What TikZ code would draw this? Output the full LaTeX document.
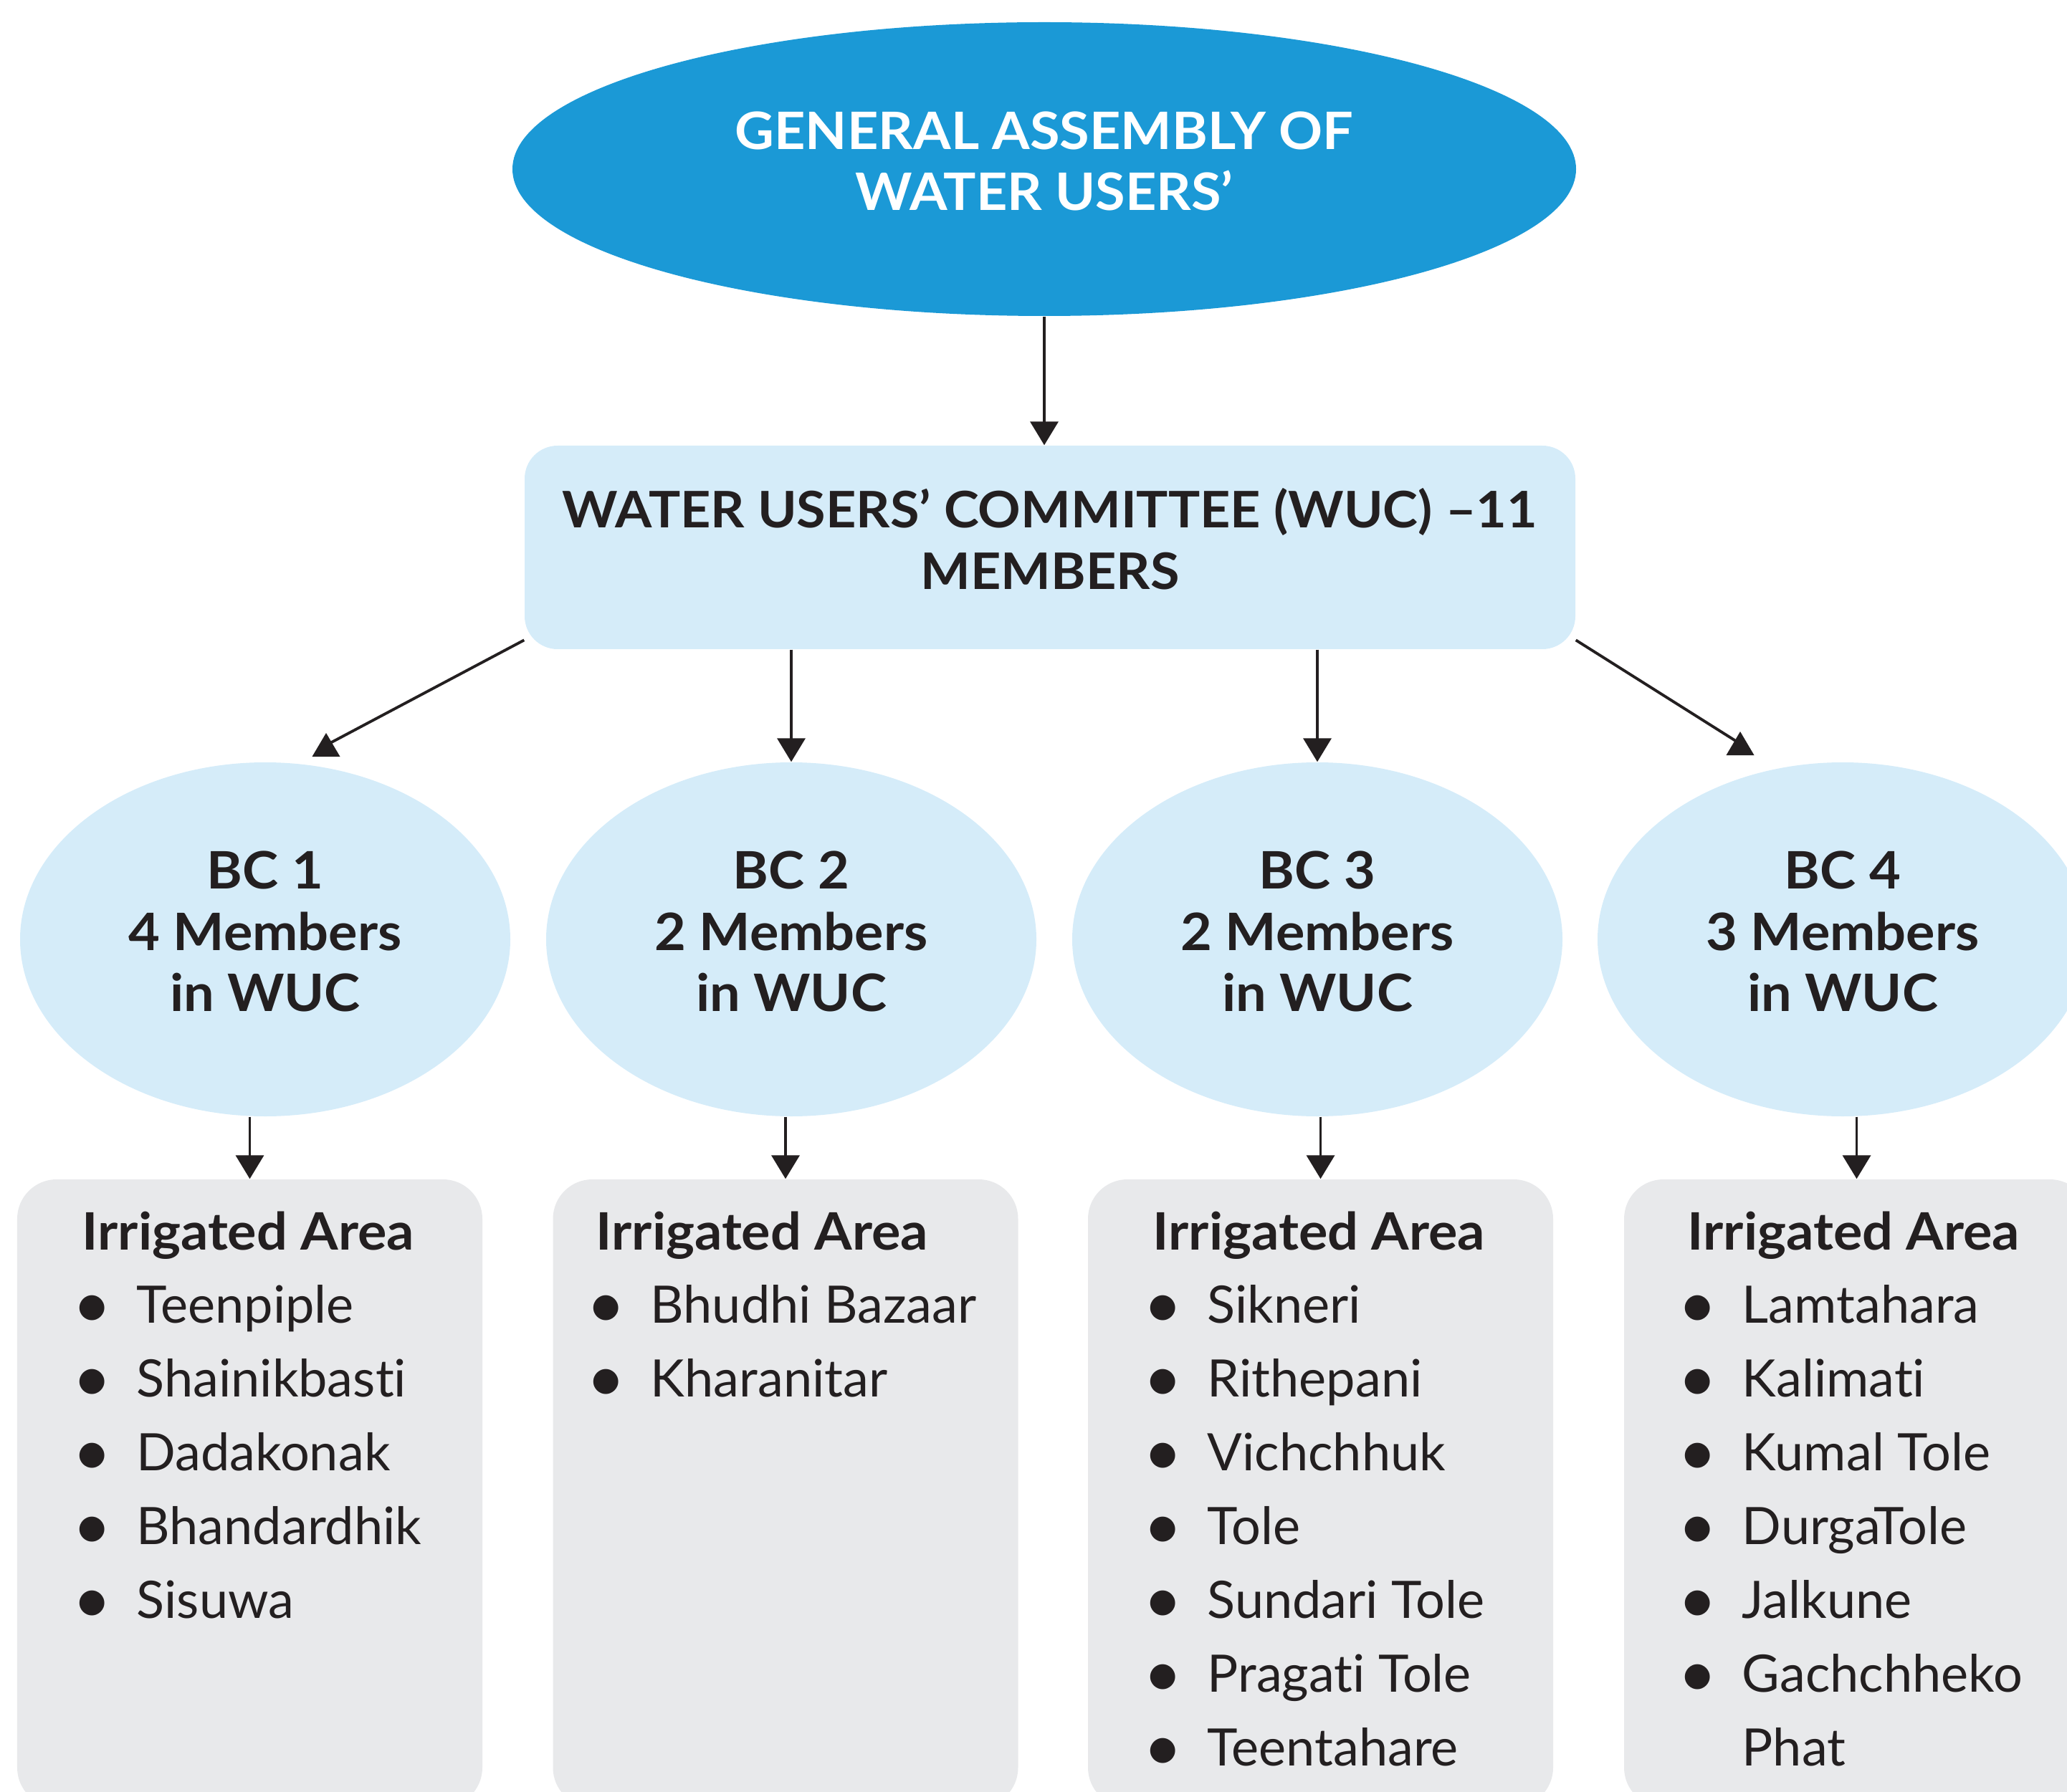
\documentclass[tikz,border=0pt]{standalone}
\usepackage{fontspec}
\setmainfont{Lato}[Ligatures=NoCommon, BoldFeatures={FakeStretch=1.05}]
\usetikzlibrary{arrows.meta,shapes.geometric}

\definecolor{assembly}{RGB}{27,153,214}
\definecolor{palebc}{RGB}{213,236,249}
\definecolor{areagray}{RGB}{232,233,235}
\definecolor{ink}{RGB}{35,31,32}

% bullet column for the irrigated area lists
\newcommand{\itm}{\makebox[0.76cm][l]{\hspace{-0.13cm}\raisebox{-0.07cm}{\scalebox{1.3}{\textbullet}}}}

\begin{document}
\begin{tikzpicture}[
    every node/.style={text=ink, inner sep=0pt},
    arr/.style={draw=ink, line width=1.1pt, -{Triangle[length=0.33cm,width=0.39cm]}},
    plainline/.style={draw=ink, line width=1.1pt},
    bcnode/.style={ellipse, fill=palebc, minimum width=6.84cm, minimum height=4.94cm},
    bctext/.style={align=center, font=\bfseries\fontsize{20.5}{24.3}\selectfont},
    areabox/.style={rectangle, rounded corners=0.55cm, fill=areagray,
        minimum width=6.49cm, minimum height=8.76cm},
    arealist/.style={anchor=base west, font=\fontsize{20.5}{29.3}\selectfont}
  ]
        \useasboundingbox (0,0) rectangle (28.84,-25.01);
        \clip (0,0) rectangle (28.84,-25.01);

        % top levels
        \draw (14.57,-2.36) node[ellipse, fill=assembly, minimum width=14.84cm, minimum height=4.1cm] (ga) {};
        \node[text=white, align=center, font=\bfseries\fontsize{20.5}{24.2}\selectfont] (gatext)
              at ([yshift=0.11cm]ga.center) {GENERAL ASSEMBLY OF\\WATER USERS’};
        \draw (14.65,-7.64) node[rectangle, rounded corners=0.46cm, fill=palebc, minimum width=14.66cm,
              minimum height=2.84cm] (wuc) {};
        \node[align=center, font=\bfseries\fontsize{20}{24.4}\selectfont] (wuctext)
              at ([yshift=0.12cm]wuc.center) {WATER USERS’ COMMITTEE (WUC) –11\\MEMBERS};

        % branch committees
        \draw (3.70,-13.11)  node[bcnode] (bc1) {};
        \draw (11.04,-13.11) node[bcnode] (bc2) {};
        \draw (18.38,-13.11) node[bcnode] (bc3) {};
        \draw (25.71,-13.11) node[bcnode] (bc4) {};
        \node[bctext] (bc1text) at ([yshift=0.11cm]bc1.center) {BC 1\\4 Members\\in WUC};
        \node[bctext] (bc2text) at ([yshift=0.11cm]bc2.center) {BC 2\\2 Members\\in WUC};
        \node[bctext] (bc3text) at ([yshift=0.11cm]bc3.center) {BC 3\\2 Members\\in WUC};
        \node[bctext] (bc4text) at ([yshift=0.11cm]bc4.center) {BC 4\\3 Members\\in WUC};

        % irrigated areas
        \draw (3.485,-20.84)  node[areabox] (area1) {};
        \draw (10.96,-20.84)  node[areabox] (area2) {};
        \draw (18.425,-20.84) node[areabox] (area3) {};
        \draw (25.905,-20.84) node[areabox] (area4) {};
        \node[arealist] (list1) at (1.14,-17.44) {\begin{tabular}[t]{@{}l@{}}
              \textbf{Irrigated Area}\\\itm Teenpiple\\\itm Shainikbasti\\\itm Dadakonak\\\itm Bhandardhik\\\itm Sisuwa
              \end{tabular}};
        \node[arealist] (list2) at (8.31,-17.44) {\begin{tabular}[t]{@{}l@{}}
              \textbf{Irrigated Area}\\\itm Bhudhi Bazaar\\\itm Kharanitar
              \end{tabular}};
        \node[arealist] (list3) at (16.08,-17.44) {\begin{tabular}[t]{@{}l@{}}
              \textbf{Irrigated Area}\\\itm Sikneri\\\itm Rithepani\\\itm Vichchhuk\\\itm Tole\\\itm Sundari Tole\\\itm Pragati Tole\\\itm Teentahare
              \end{tabular}};
        \node[arealist] (list4) at (23.54,-17.44) {\begin{tabular}[t]{@{}l@{}}
              \textbf{Irrigated Area}\\\itm Lamtahara\\\itm Kalimati\\\itm Kumal Tole\\\itm DurgaTole\\\itm Jalkune\\\itm Gachchheko\\\hspace{0.76cm}Phat
              \end{tabular}};

        % connectors
        \coordinate (t1) at (4.55,-10.40);
        \coordinate (t4) at (24.28,-10.38);
        \draw[arr] (ga.south) -- (ga.south |- wuc.north);
        \draw[plainline] (wuc.190) -- (t1);
        \fill[ink] (t1) ++(0,0.17) -- ++(-0.195,-0.33) -- ++(0.39,0) -- cycle;
        \draw[arr] (wuc.south -| bc2) -- (bc2.north);
        \draw[arr] (wuc.south -| bc3) -- (bc3.north);
        \draw[plainline] (wuc.-10) -- (t4);
        \fill[ink] (t4) ++(0,0.17) -- ++(-0.195,-0.33) -- ++(0.39,0) -- cycle;
        \draw[arr] (bc1.south -| area1) -- (area1.north);
        \draw[arr] (bc2.south -| area2) -- (area2.north);
        \draw[arr] (bc3.south -| area3) -- (area3.north);
        \draw[arr] (bc4.south -| area4) -- (area4.north);
\end{tikzpicture}
\end{document}
